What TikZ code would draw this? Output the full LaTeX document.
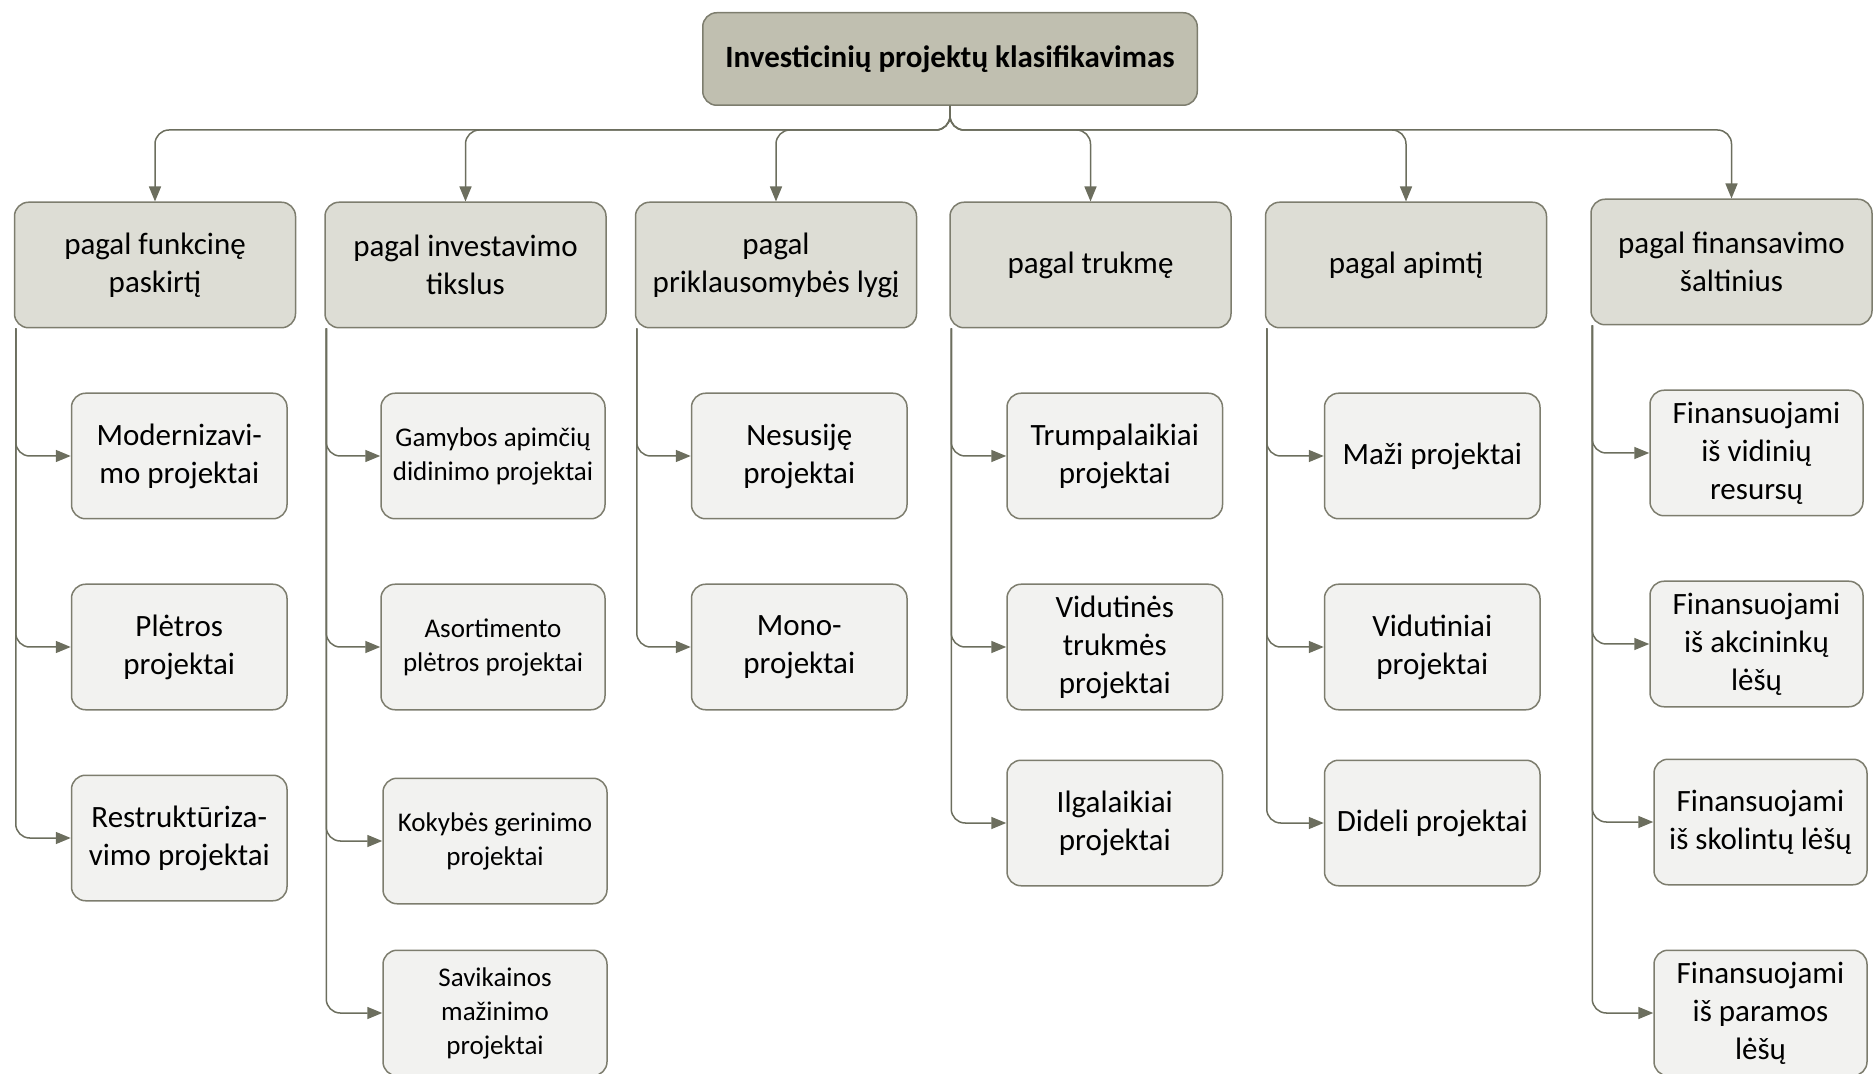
\documentclass[tikz,border=0pt]{standalone}
\usepackage{fontspec}
\setmainfont{Carlito}
\usetikzlibrary{arrows.meta, positioning}
\definecolor{headfill}{RGB}{192,191,176}
\definecolor{catfill}{RGB}{221,221,213}
\definecolor{itemfill}{RGB}{242,242,240}
\definecolor{edge}{RGB}{125,125,110}
\definecolor{linecol}{RGB}{108,110,94}

\begin{document}
\begin{tikzpicture}[x=0.5pt, y=-0.5pt, node distance=32pt, base/.style={draw=edge, line width=0.75pt, rounded corners=7pt, align=center, inner sep=3pt}, head/.style={base, fill=headfill, minimum width=247.25pt, minimum height=46.25pt, font=\fontsize{15.5}{19}\selectfont\bfseries}, cat/.style={base, fill=catfill, minimum width=140.5pt, minimum height=62.75pt, font=\fontsize{15.5}{19}\selectfont}, item/.style={base, fill=itemfill, minimum width=107.75pt, minimum height=62.75pt, font=\fontsize{15.5}{19}\selectfont}, small/.style={item, minimum width=112pt, font=\fontsize{13.5}{17}\selectfont}, arrow/.style={draw=linecol, line width=0.75pt, rounded corners=7pt, -{Triangle[length=7.5pt, width=6pt]}}]
\useasboundingbox (0,0) rectangle (1874,1074);

\node[head] (root) at (950,59) {Investicinių projektų klasifikavimas};
\node[cat] (funk) at (155,265) {pagal funkcinę\\paskirtį};
\node[cat, right=14pt of funk] (tiksl) {pagal investavimo\\tikslus};
\node[cat, right=14pt of tiksl] (prikl) {pagal\\priklausomybės lygį};
\node[cat, right=16pt of prikl] (truk) {pagal trukmę};
\node[cat, right=16.5pt of truk] (apimt) {pagal apimtį};
\node[cat, right=21.5pt of apimt, yshift=1.5pt] (fin) {pagal finansavimo\\šaltinius};

\node[item, below right=32pt and 28.5pt of funk.south west] (modern) {Modernizavi-\\mo projektai};
\node[item, below=of modern] (pletr) {Plėtros\\projektai};
\node[item, below=of pletr] (restr) {Restruktūriza-\\vimo projektai};

\node[small, below right=32pt and 28pt of tiksl.south west] (gamyb) {Gamybos apimčių\\didinimo projektai};
\node[small, below=of gamyb] (asort) {Asortimento\\plėtros projektai};
\node[small, below=33.5pt of asort, xshift=1pt] (kokyb) {Kokybės gerinimo\\projektai};
\node[small, below=22.5pt of kokyb] (savik) {Savikainos\\mažinimo\\projektai};

\node[item, below right=32pt and 28pt of prikl.south west] (nesus) {Nesusiję\\projektai};
\node[item, below=of nesus] (mono) {Mono-\\projektai};

\node[item, below right=32pt and 28.5pt of truk.south west] (trump) {Trumpalaikiai\\projektai};
\node[item, below=of trump] (vidtr) {Vidutinės\\trukmės\\projektai};
\node[item, below=24.5pt of vidtr] (ilgal) {Ilgalaikiai\\projektai};

\node[item, below right=32pt and 29.5pt of apimt.south west] (mazi) {Maži projektai};
\node[item, below=of mazi] (vidut) {Vidutiniai\\projektai};
\node[item, below=24.5pt of vidut] (dideli) {Dideli projektai};

\node[item, minimum width=106.5pt, below right=32pt and 29.5pt of fin.south west] (vidin) {Finansuojami\\iš vidinių\\resursų};
\node[item, minimum width=106.5pt, below=of vidin] (akcin) {Finansuojami\\iš akcininkų\\lėšų};
\node[item, minimum width=106.5pt, below=25.5pt of akcin, xshift=2pt] (skol) {Finansuojami\\iš skolintų lėšų};
\node[item, minimum width=106.5pt, below=of skol] (param) {Finansuojami\\iš paramos\\lėšų};

\coordinate (hub) at ([yshift=-12pt]root.south);
\draw[arrow](root.south)--(hub)-|(funk.north);\draw[arrow](root.south)--(hub)-|(tiksl.north);\draw[arrow](root.south)--(hub)-|(prikl.north);
\draw[arrow](root.south)--(hub)-|(truk.north);\draw[arrow](root.south)--(hub)-|(apimt.north);\draw[arrow](root.south)--(hub)-|(fin.north);

\draw[arrow]([xshift=1pt]funk.south west)|-(modern.west);\draw[arrow]([xshift=1pt]funk.south west)|-(pletr.west);\draw[arrow]([xshift=1pt]funk.south west)|-(restr.west);
\draw[arrow]([xshift=1pt]tiksl.south west)|-(gamyb.west);\draw[arrow]([xshift=1pt]tiksl.south west)|-(asort.west);\draw[arrow]([xshift=1pt]tiksl.south west)|-(kokyb.west);\draw[arrow]([xshift=1pt]tiksl.south west)|-(savik.west);
\draw[arrow]([xshift=1pt]prikl.south west)|-(nesus.west);\draw[arrow]([xshift=1pt]prikl.south west)|-(mono.west);
\draw[arrow]([xshift=1pt]truk.south west)|-(trump.west);\draw[arrow]([xshift=1pt]truk.south west)|-(vidtr.west);\draw[arrow]([xshift=1pt]truk.south west)|-(ilgal.west);
\draw[arrow]([xshift=1pt]apimt.south west)|-(mazi.west);\draw[arrow]([xshift=1pt]apimt.south west)|-(vidut.west);\draw[arrow]([xshift=1pt]apimt.south west)|-(dideli.west);
\draw[arrow]([xshift=1pt]fin.south west)|-(vidin.west);\draw[arrow]([xshift=1pt]fin.south west)|-(akcin.west);\draw[arrow]([xshift=1pt]fin.south west)|-(skol.west);\draw[arrow]([xshift=1pt]fin.south west)|-(param.west);

\end{tikzpicture}
\end{document}
